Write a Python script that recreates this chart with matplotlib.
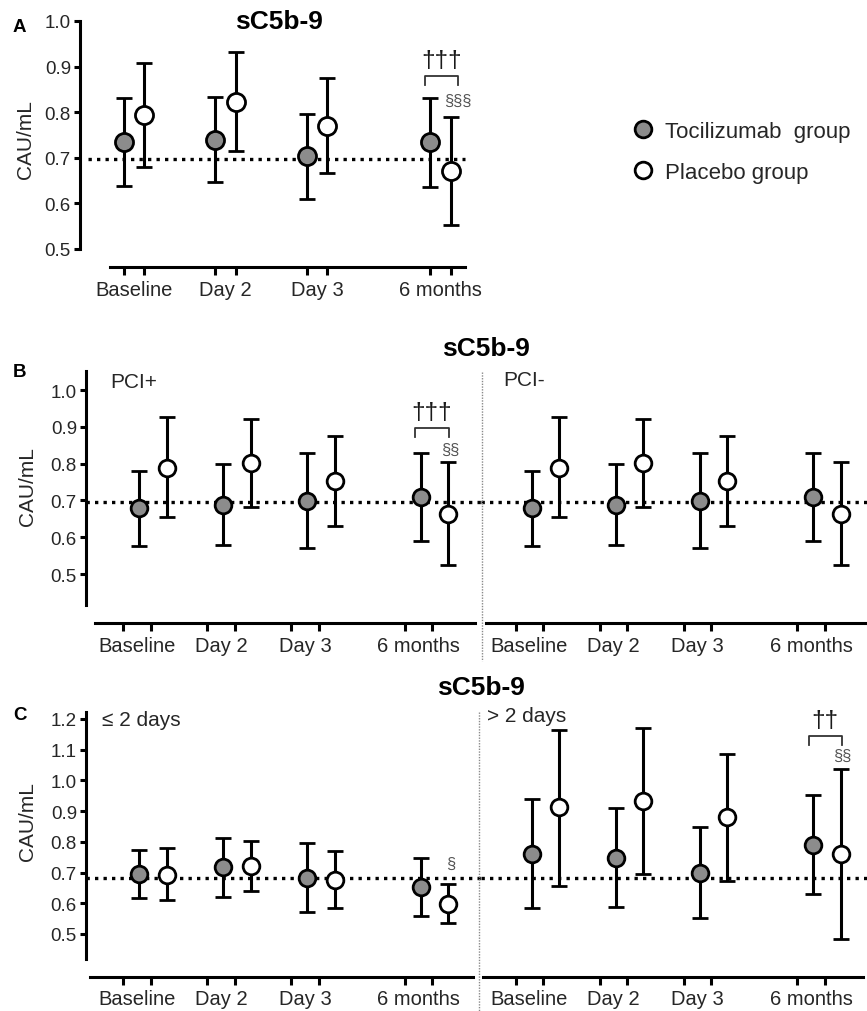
import matplotlib
matplotlib.use('Agg')
import matplotlib.pyplot as plt
from matplotlib.lines import Line2D
import numpy as np

plt.rcParams['font.family'] = ['Liberation Sans', 'DejaVu Sans']

# ---------------- data ----------------
timepoints = ['Baseline', 'Day 2', 'Day 3', '6 months']
group_labels = ['Tocilizumab  group', 'Placebo group']

# Panel A (all patients)
a_toci_mean = [0.734, 0.739, 0.703, 0.734]
a_toci_low = [0.639, 0.646, 0.610, 0.636]
a_toci_high = [0.831, 0.834, 0.797, 0.831]
a_plac_mean = [0.793, 0.822, 0.769, 0.670]
a_plac_low = [0.680, 0.715, 0.667, 0.553]
a_plac_high = [0.908, 0.931, 0.876, 0.790]
a_ref = 0.697

# Panel B, PCI+
bp_toci_mean = [0.678, 0.688, 0.699, 0.708]
bp_toci_low = [0.576, 0.580, 0.572, 0.591]
bp_toci_high = [0.780, 0.800, 0.828, 0.828]
bp_plac_mean = [0.788, 0.801, 0.752, 0.663]
bp_plac_low = [0.654, 0.682, 0.631, 0.525]
bp_plac_high = [0.926, 0.921, 0.874, 0.804]

# Panel B, PCI-
bm_toci_mean = [0.678, 0.688, 0.699, 0.708]
bm_toci_low = [0.576, 0.580, 0.572, 0.591]
bm_toci_high = [0.780, 0.800, 0.828, 0.828]
bm_plac_mean = [0.788, 0.801, 0.752, 0.663]
bm_plac_low = [0.654, 0.682, 0.631, 0.525]
bm_plac_high = [0.926, 0.921, 0.874, 0.804]
b_ref = 0.697

# Panel C, <= 2 days
cl_toci_mean = [0.695, 0.717, 0.682, 0.654]
cl_toci_low = [0.616, 0.621, 0.572, 0.559]
cl_toci_high = [0.774, 0.812, 0.795, 0.749]
cl_plac_mean = [0.692, 0.720, 0.677, 0.597]
cl_plac_low = [0.610, 0.640, 0.583, 0.537]
cl_plac_high = [0.779, 0.804, 0.771, 0.663]

# Panel C, > 2 days
cr_toci_mean = [0.760, 0.749, 0.697, 0.791]
cr_toci_low = [0.583, 0.588, 0.551, 0.629]
cr_toci_high = [0.939, 0.910, 0.849, 0.953]
cr_plac_mean = [0.912, 0.932, 0.880, 0.760]
cr_plac_low = [0.657, 0.695, 0.673, 0.483]
cr_plac_high = [1.165, 1.170, 1.086, 1.037]
c_ref = 0.683

# ---------------- layout / style ----------------
W, H = 867, 1012
fig = plt.figure(figsize=(W / 100, H / 100), dpi=100)
fig.patch.set_facecolor('white')

GROUP_POS = np.array([0.0, 1.0, 2.0, 3.35])
TOCI_FILL = '#8c8c8c'
TXT = '#262626'
LW = 2.2


def fx(px):
    return px / W


def fy(py):
    return 1 - py / H


def make_axes(px_left, px_right, py_top, py_bottom, x0_px, unit_px, yfun):
    ax = fig.add_axes([fx(px_left), fy(py_bottom), (px_right - px_left) / W,
                       (py_bottom - py_top) / H])
    ax.set_xlim((px_left - x0_px) / unit_px, (px_right - x0_px) / unit_px)
    ax.set_ylim(yfun(py_bottom), yfun(py_top))
    ax.patch.set_alpha(0)
    for s in ['top', 'right']:
        ax.spines[s].set_visible(False)
    return ax


def draw_series(ax, x, mean, low, high, fill, ms):
    mean = np.asarray(mean)
    yerr = [mean - np.asarray(low), np.asarray(high) - mean]
    ax.errorbar(x, mean, yerr=yerr, fmt='o', ms=ms, mfc=fill, mec='black',
                mew=2.0, ecolor='black', elinewidth=LW, capsize=5.5,
                capthick=LW, zorder=4, clip_on=False)


def style_x(ax, tick_pos, label_pos, line_lo, line_hi, labelsize=14.5):
    ax.spines['bottom'].set_linewidth(LW)
    ax.spines['bottom'].set_bounds(line_lo, line_hi)
    ax.set_xticks(tick_pos)
    ax.set_xticklabels([])
    ax.set_xticks(label_pos, timepoints, minor=True)
    ax.tick_params(axis='x', which='major', direction='out', length=5.5,
                   width=LW, color='black')
    ax.tick_params(axis='x', which='minor', length=0, pad=9,
                   labelsize=labelsize, labelcolor=TXT)


def style_y(ax, ticks, lo, hi, labelsize=13.5):
    ax.spines['left'].set_linewidth(LW)
    ax.spines['left'].set_bounds(lo, hi)
    ax.set_yticks(ticks)
    ax.set_yticklabels([f'{t:.1f}' for t in ticks])
    ax.tick_params(axis='y', direction='out', length=4.5, width=LW,
                   pad=2, labelsize=labelsize, labelcolor=TXT)


def no_y(ax):
    ax.spines['left'].set_visible(False)
    ax.set_yticks([])


def ref_line(ax, y, xmin=None, xmax=None):
    lo, hi = ax.get_xlim()
    ax.hlines(y, lo if xmin is None else xmin, hi if xmax is None else xmax,
              colors='black', linewidth=2.4, linestyles=(0, (1, 1.55)), zorder=2)


def bracket(ax, x1, x2, y_top, y_leg, mark, size=17.5):
    ax.plot([x1, x1, x2, x2], [y_leg, y_top, y_top, y_leg], color='#333333',
            lw=1.3, zorder=3, clip_on=False)
    ax.text((x1 + x2) / 2, y_top + (y_top - y_leg) * 0.55, mark, ha='center',
            va='bottom', fontsize=size, color='#1a1a1a', clip_on=False)


def section(ax, x, y, mark):
    ax.text(x, y, mark, ha='center', va='center', fontsize=12, color='#555555',
            clip_on=False)


def ylabel(px, py):
    fig.text(fx(px), fy(py), 'CAU/mL', rotation=90, ha='center', va='center',
             fontsize=15, color=TXT)


def title(px, py):
    fig.text(fx(px), fy(py), 'sC5b-9', ha='center', va='center', fontsize=19,
             fontweight='bold', color='black')


def letter(px, py, s):
    fig.text(fx(px), fy(py), s, ha='left', va='center', fontsize=13.5,
             fontweight='bold', color='black')


def divider(px, py_top, py_bot):
    fig.add_artist(Line2D([fx(px), fx(px)], [fy(py_top), fy(py_bot)],
                          transform=fig.transFigure, color='#8a8a8a', lw=1.0,
                          ls=(0, (1, 1))))


# ================= Panel A =================
yA = lambda py: 1.0 - (py - 22) / 456.0
uA = 91.5
axA = make_axes(80, 480, 20, 268, 134, uA, yA)
offA = 0.11
draw_series(axA, GROUP_POS - offA, a_toci_mean, a_toci_low, a_toci_high, TOCI_FILL, 13)
draw_series(axA, GROUP_POS + offA, a_plac_mean, a_plac_low, a_plac_high, 'white', 13)
style_y(axA, np.round(np.arange(0.5, 1.01, 0.1), 1), 0.5, 1.0)
style_x(axA, np.sort(np.concatenate([GROUP_POS - offA, GROUP_POS + offA])),
        GROUP_POS, (110 - 134) / uA, (465 - 134) / uA)
ref_line(axA, a_ref, (88 - 134) / uA, (465 - 134) / uA)
bracket(axA, GROUP_POS[3] - offA - 0.06, GROUP_POS[3] + offA + 0.08, 0.879, 0.860,
        '\u2020\u2020\u2020')
section(axA, GROUP_POS[3] + offA + 0.08, 0.826, '\u00a7\u00a7\u00a7')
ylabel(25, 140)
title(279, 22)
letter(13, 28, 'A')

handles = [Line2D([], [], ls='none', marker='o', ms=12, mfc=TOCI_FILL, mec='black', mew=2.0),
           Line2D([], [], ls='none', marker='o', ms=12, mfc='white', mec='black', mew=2.0)]
fig.legend(handles, group_labels, loc='center left',
           bbox_to_anchor=(fx(632), fy(153)), frameon=False, fontsize=16,
           handletextpad=0.5, labelspacing=0.9, handlelength=1.0,
           borderpad=0, borderaxespad=0, labelcolor=TXT)

# ================= Panels B and C common x layout =================
uBC = 84.0
offBC = 0.165
TICK_SHIFT = -0.19
L_LEFT, L_RIGHT, L_X0 = 86, 481, 153
R_LEFT, R_RIGHT, R_X0 = 481, 867, 545.5
ticks_bc = np.sort(np.concatenate([GROUP_POS - offBC, GROUP_POS + offBC])) + TICK_SHIFT
labels_bc = GROUP_POS + TICK_SHIFT


def bc_pair(yfun, pt, pb, left_data, right_data, ref, yticks, spine_lo, spine_hi,
            line_px):
    axl = make_axes(L_LEFT, L_RIGHT, pt, pb, L_X0, uBC, yfun)
    axr = make_axes(R_LEFT, R_RIGHT, pt, pb, R_X0, uBC, yfun)
    for ax, d in ((axl, left_data), (axr, right_data)):
        draw_series(ax, GROUP_POS - offBC, d[0], d[1], d[2], TOCI_FILL, 12)
        draw_series(ax, GROUP_POS + offBC, d[3], d[4], d[5], 'white', 12)
        ref_line(ax, ref)
    style_y(axl, yticks, spine_lo, spine_hi)
    no_y(axr)
    style_x(axl, ticks_bc, labels_bc, (line_px[0] - L_X0) / uBC, (line_px[1] - L_X0) / uBC)
    style_x(axr, ticks_bc, labels_bc, (line_px[2] - R_X0) / uBC, (line_px[3] - R_X0) / uBC)
    return axl, axr


# ================= Panel B =================
yB = lambda py: 1.0 - (py - 391) / 368.0
axBl, axBr = bc_pair(
    yB, 368, 624,
    (bp_toci_mean, bp_toci_low, bp_toci_high, bp_plac_mean, bp_plac_low, bp_plac_high),
    (bm_toci_mean, bm_toci_low, bm_toci_high, bm_plac_mean, bm_plac_low, bm_plac_high),
    b_ref, np.round(np.arange(0.5, 1.01, 0.1), 1), yB(606), yB(372),
    (95, 475, 486, 867))
bracket(axBl, GROUP_POS[3] - offBC - 0.07, GROUP_POS[3] + offBC + 0.01, 0.897, 0.872,
        '\u2020\u2020\u2020')
section(axBl, GROUP_POS[3] + offBC + 0.02, 0.840, '\u00a7\u00a7')
fig.text(fx(110), fy(382), 'PCI+', ha='left', va='center', fontsize=15, color=TXT)
fig.text(fx(503), fy(380), 'PCI-', ha='left', va='center', fontsize=15, color=TXT)
ylabel(27, 487)
title(486, 349)
letter(13, 373, 'B')
divider(482, 373, 662)

# ================= Panel C =================
yC = lambda py: 1.2 - (py - 720) / 307.1
axCl, axCr = bc_pair(
    yC, 708, 978,
    (cl_toci_mean, cl_toci_low, cl_toci_high, cl_plac_mean, cl_plac_low, cl_plac_high),
    (cr_toci_mean, cr_toci_low, cr_toci_high, cr_plac_mean, cr_plac_low, cr_plac_high),
    c_ref, np.round(np.arange(0.5, 1.21, 0.1), 1), yC(960), yC(713),
    (90, 473, 483, 863))
bracket(axCr, GROUP_POS[3] - offBC - 0.05, GROUP_POS[3] + offBC + 0.01, 1.145, 1.115,
        '\u2020\u2020')
section(axCr, GROUP_POS[3] + offBC + 0.02, 1.080, '\u00a7\u00a7')
section(axCl, GROUP_POS[3] + offBC + 0.03, 0.731, '\u00a7')
fig.text(fx(102), fy(720), '\u2264 2 days', ha='left', va='center', fontsize=15, color=TXT)
fig.text(fx(487), fy(716), '> 2 days', ha='left', va='center', fontsize=15, color=TXT)
ylabel(27, 822)
title(481, 688)
letter(13, 716, 'C')
divider(479, 713, 1012)

fig.savefig('out.png', dpi=100, facecolor='white')
